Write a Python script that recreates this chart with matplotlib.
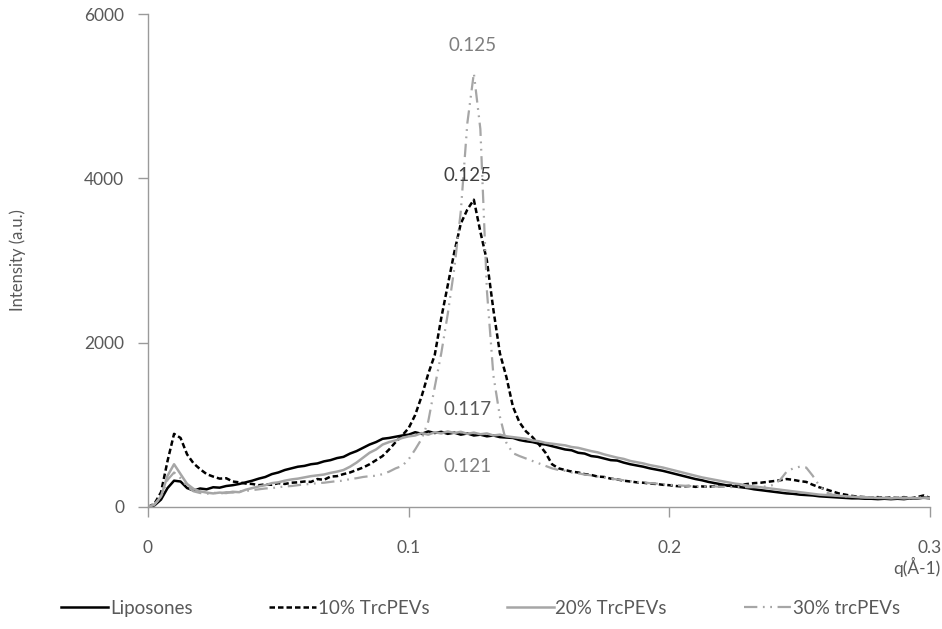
import matplotlib
matplotlib.use("Agg")
import matplotlib.pyplot as plt
import numpy as np

plt.rcParams['font.family'] = ['Lato', 'DejaVu Sans']

# Scattering vector q (Å^-1), common grid for all samples
q = np.round(np.arange(0, 121) * 0.0025, 4)

liposomes = [
    0, 20, 90, 230, 320, 310, 230, 200, 225, 215,
    240, 235, 255, 265, 280, 300, 320, 345, 365, 400,
    420, 450, 470, 490, 500, 520, 530, 555, 570, 595,
    610, 650, 680, 720, 760, 790, 830, 840, 855, 870,
    880, 910, 890, 920, 900, 915, 890, 905, 880, 895,
    870, 880, 860, 870, 850, 845, 840, 815, 800, 790,
    770, 760, 740, 720, 700, 690, 660, 650, 620, 610,
    590, 570, 565, 540, 520, 505, 490, 470, 455, 440,
    420, 400, 380, 360, 340, 325, 305, 290, 275, 260,
    250, 240, 230, 215, 205, 195, 185, 175, 165, 160,
    150, 145, 140, 130, 125, 120, 115, 110, 105, 105,
    100, 100, 95, 100, 95, 100, 95, 105, 100, 115, 105]

trc10 = [
    0, 40, 180, 560, 890, 840, 640, 530, 460, 400,
    370, 345, 350, 310, 300, 285, 280, 265, 275, 270,
    290, 280, 295, 300, 310, 305, 340, 330, 370, 375,
    400, 420, 450, 480, 520, 570, 620, 700, 790, 870,
    960, 1120, 1350, 1620, 1850, 2300, 2700, 3100, 3450, 3620,
    3740, 3350, 3000, 2400, 1870, 1580, 1220, 1030, 920, 850,
    760, 660, 520, 470, 450, 430, 420, 400, 390, 370,
    365, 345, 335, 320, 310, 300, 295, 285, 280, 270,
    265, 255, 250, 255, 245, 250, 245, 255, 250, 260,
    265, 270, 280, 290, 295, 305, 315, 325, 340, 330,
    315, 305, 270, 240, 215, 190, 165, 150, 135, 125,
    120, 115, 120, 110, 115, 110, 120, 105, 120, 140, 110]

trc20 = [
    0, 30, 130, 380, 520, 400, 280, 220, 190, 175,
    165, 175, 170, 185, 180, 210, 230, 250, 265, 290,
    300, 320, 335, 345, 360, 375, 385, 395, 415, 430,
    450, 490, 540, 600, 660, 700, 760, 790, 810, 840,
    860, 870, 900, 880, 910, 895, 920, 900, 915, 890,
    905, 885, 895, 870, 880, 860, 850, 840, 830, 810,
    800, 780, 770, 760, 750, 730, 720, 700, 680, 665,
    640, 620, 600, 585, 560, 545, 530, 510, 495, 480,
    460, 440, 420, 400, 380, 360, 345, 330, 315, 300,
    285, 275, 260, 250, 240, 230, 220, 210, 200, 190,
    180, 170, 160, 150, 145, 140, 135, 130, 125, 120,
    115, 115, 110, 110, 105, 110, 105, 110, 105, 110, 105]

trc30 = [
    0, 30, 120, 330, 420, 350, 250, 190, 170, 160,
    175, 160, 180, 175, 190, 195, 205, 215, 225, 230,
    240, 250, 255, 265, 275, 280, 290, 295, 305, 315,
    320, 340, 350, 365, 375, 380, 400, 430, 470, 500,
    580, 700, 830, 1040, 1460, 1870, 2350, 2900, 3600, 4670,
    5280, 4600, 2640, 1600, 1100, 780, 655, 620, 590, 560,
    530, 500, 470, 450, 440, 420, 410, 395, 385, 370,
    360, 345, 335, 325, 315, 305, 300, 290, 285, 275,
    270, 265, 260, 255, 250, 250, 245, 250, 245, 245,
    240, 245, 240, 240, 245, 250, 270, 330, 430, 470,
    490, 480, 380, 260, 180, 150, 135, 130, 125, 120,
    120, 115, 115, 110, 115, 110, 115, 110, 110, 120, 110]

labels = ["Liposones", "10% TrcPEVs", "20% TrcPEVs", "30% trcPEVs"]

x_ticks = [0, 0.1, 0.2, 0.3]
x_tick_labels = ["0", "0.1", "0.2", "0.3"]
y_ticks = [0, 2000, 4000, 6000]

# Peak position labels: (text, q, intensity, colour)
peak_notes = [
    ("0.125", 0.1247, 5620, "#7f7f7f"),
    ("0.125", 0.1224, 4030, "#404040"),
    ("0.117", 0.1224, 1190, "#595959"),
    ("0.121", 0.1224, 490, "#7f7f7f"),
]

text_color = "#595959"
axis_color = "#9a9a9a"

fig = plt.figure(figsize=(9.42, 6.29), dpi=100)
ax = fig.add_axes([0.1571, 0.1940, 0.8302, 0.7837])

ax.plot(q, liposomes, color="black", lw=1.8, label=labels[0])
ax.plot(q, trc10, color="black", lw=1.8, dashes=(2.2, 1.2), label=labels[1])
ax.plot(q, trc20, color="#a6a6a6", lw=1.8, label=labels[2])
ax.plot(q, trc30, color="#a6a6a6", lw=1.6, dashes=(6, 2.5, 0.8, 2.5, 0.8, 2.5),
        label=labels[3])

ax.set_xlim(0, 0.3)
ax.set_ylim(0, 6000)
ax.set_xticks(x_ticks)
ax.set_xticklabels(x_tick_labels)
ax.set_yticks(y_ticks)

for s in ["top", "right"]:
    ax.spines[s].set_visible(False)
for s in ["left", "bottom"]:
    ax.spines[s].set_color(axis_color)
    ax.spines[s].set_linewidth(1.0)

ax.tick_params(axis="x", direction="out", length=7, width=1.0, color=axis_color,
               pad=17, labelsize=12.5, labelcolor=text_color)
ax.tick_params(axis="y", direction="out", length=7, width=1.0, color=axis_color,
               pad=10, labelsize=12.5, labelcolor=text_color)

for txt, xq, yi, col in peak_notes:
    ax.text(xq, yi, txt, ha="center", va="center", fontsize=13.5, color=col)

fig.text(0.019, 0.587, "Intensity (a.u.)", rotation=90, ha="center", va="center",
         fontsize=12, color=text_color)
fig.text(0.998, 0.098, "q(Å-1)", ha="right", va="center", fontsize=12.5,
         color=text_color)

leg = fig.legend(loc="center", bbox_to_anchor=(0.51, 0.033), ncol=4,
                 frameon=False, fontsize=13.5, handlelength=2.5,
                 handletextpad=0.1, columnspacing=4.1)
for t in leg.get_texts():
    t.set_color(text_color)

fig.savefig("out.png", dpi=100)
